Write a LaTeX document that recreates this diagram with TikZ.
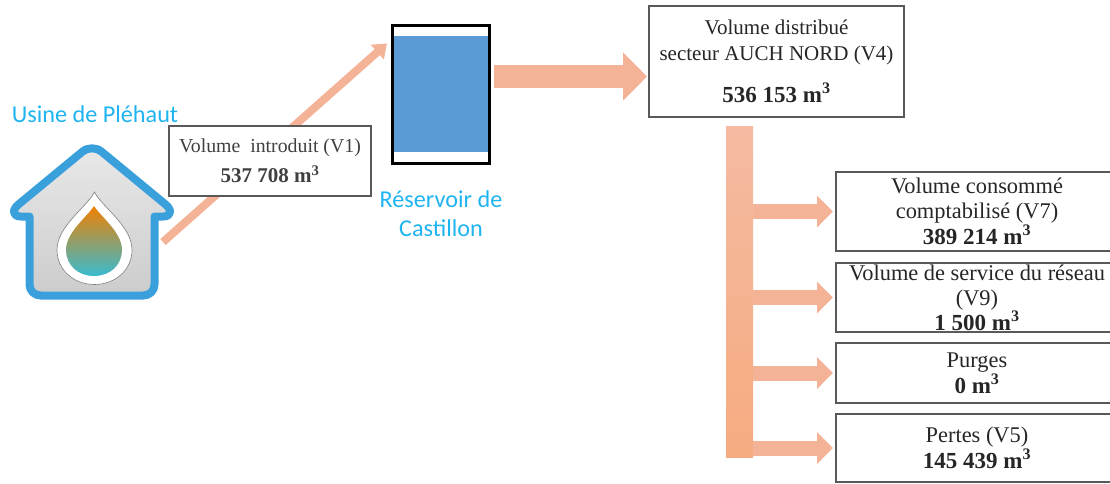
\documentclass[tikz,border=0pt]{standalone}
\usepackage{fontspec}
\usepackage{xcolor}
\setmainfont{Liberation Serif}
\newfontfamily\labelfont{Carlito}
\usetikzlibrary{positioning}
\usetikzlibrary{arrows.meta}

\definecolor{flowOrange}{HTML}{F4B397}
\definecolor{labelBlue}{HTML}{1FB4F0}
\definecolor{houseBlue}{HTML}{3AA0DC}
\definecolor{waterBlue}{HTML}{5B9BD5}
\definecolor{dropTop}{HTML}{F08000}
\definecolor{dropMid}{HTML}{5BA52E}
\definecolor{dropBottom}{HTML}{38BBD0}

\newcommand{\volnum}[1]{{\fontsize{23}{25}\selectfont\textbf{#1 m\textsuperscript{3}}}}

\tikzset{
	volbox/.style={
		draw=black!65,
		line width=1.2pt,
		fill=white,
		inner sep=0pt,
		outer sep=0pt,
		align=center,
		text=black!85,
		font=\fontsize{22.4}{25}\selectfont
	},
	sitelabel/.style={
		inner sep=0pt,
		align=center,
		text=labelBlue,
		font=\labelfont\fontsize{24.2}{29}\selectfont
	},
	branch/.style={
		draw=flowOrange,
		line width=15pt,
		-{Triangle[length=16pt,width=31pt]}
	}
}

\begin{document}
\begin{tikzpicture}[x=1pt,y=-1pt]

\clip (0,0) rectangle (1110,483);
\useasboundingbox (0,0) rectangle (1110,483);

% --- plant

\node[sitelabel] (usine) at (95,114) {Usine de Pléhaut};

\draw[
	draw=houseBlue,
	line width=8pt,
	line join=round,
	top color=black!9,
	bottom color=black!20
] (29.5,216.5) -- (21,216.5) .. controls (12,216.5) and (12,209.5) .. (19,204)
	-- (82,152) .. controls (88,147) and (96,147) .. (102,152)
	-- (165,204) .. controls (172,209.5) and (172,216.5) .. (163,216.5)
	-- (154.5,216.5) [rounded corners=11pt]
	-- (154.5,295.5) -- (29.5,295.5) [sharp corners] -- cycle;

\draw[draw=black!50, fill=white, line width=0.6pt]
	(94.5,192) .. controls (102,207) and (132,226) .. (132,250)
	.. controls (132,270) and (115,284.5) .. (94.5,284.5)
	.. controls (74,284.5) and (57,270) .. (57,250)
	.. controls (57,226) and (87,207) .. (94.5,192) -- cycle;

\shade[top color=dropTop, middle color=dropMid, bottom color=dropBottom]
	(94,206) .. controls (100,216) and (122,232) .. (122,250)
	.. controls (122,265) and (110,276) .. (94,276)
	.. controls (78,276) and (66,265) .. (66,250)
	.. controls (66,232) and (88,216) .. (94,206) -- cycle;

% --- reservoir

\node[
	draw=black,
	line width=3pt,
	fill=white,
	outer sep=0pt,
	minimum width=97pt,
	minimum height=138pt
] (reservoir) at (441,94.5) {};

\node[
	fill=waterBlue,
	outer sep=0pt,
	minimum width=94pt,
	minimum height=116pt
] (water) at (441,94) {};

\node[sitelabel, below=27pt of reservoir] (reservoirName) {Réservoir de\\Castillon};

% --- volumes

\coordinate (plantOut) at (163,242);
\coordinate (reservoirIn) at (387,43.5);

\draw[
	draw=flowOrange,
	line width=8pt,
	-{Triangle[length=13pt,width=19pt]}
] (plantOut) -- (reservoirIn);

\node[
	volbox,
	minimum width=202pt,
	minimum height=70pt,
	text=black!75,
	font=\fontsize{19.8}{30}\selectfont
] (introduit) at (270,161) {Volume\ \ introduit (V1)\\[0pt]{\fontsize{21}{30}\selectfont\textbf{537 708 m\textsuperscript{3}}}};

\node[
	volbox,
	minimum width=255pt,
	minimum height=111pt,
	font=\fontsize{21}{26}\selectfont
] (distribue) at (776.5,61.5) {Volume distribué\\secteur AUCH NORD (V4)\\[16pt]\volnum{536 153}};

\coordinate (reservoirOut) at ([xshift=4pt,yshift=18pt]reservoir.east);
\coordinate (distribueIn) at ([xshift=-2pt,yshift=-15pt]distribue.west);

\draw[
	draw=flowOrange,
	line width=23pt,
	-{Triangle[length=24pt,width=47pt]}
] (reservoirOut) -- (distribueIn);

\node[
	top color=flowOrange!90!white,
	bottom color=flowOrange!85!orange,
	outer sep=0pt,
	minimum width=27pt,
	minimum height=331pt
] (trunk) at (739.5,291.5) {};

\node[
	volbox,
	minimum width=282pt,
	minimum height=79pt
] (comptabilise) at (977,211.5) {Volume consommé\\comptabilisé (V7)\\[1pt]\volnum{389 214}};

\node[
	volbox,
	minimum width=282pt,
	minimum height=69pt,
	below=12pt of comptabilise
] (service) {Volume de service du réseau\\(V9)\\\volnum{1 500}};

\node[
	volbox,
	minimum width=282pt,
	minimum height=60pt,
	below=11pt of service
] (purges) {Purges\\[1pt]\volnum{0}};

\node[
	volbox,
	minimum width=282pt,
	minimum height=68pt,
	below=11pt of purges
] (pertes) {Pertes (V5)\\[1pt]\volnum{145 439}};

% ---

\draw[branch, shorten >=3pt] (trunk.east |- comptabilise.west) -- (comptabilise.west);
\draw[branch, shorten >=3pt] (trunk.east |- service.west) -- (service.west);
\draw[branch, shorten >=3pt] (trunk.east |- purges.west) -- (purges.west);
\draw[branch, shorten >=3pt] (trunk.east |- pertes.west) -- (pertes.west);

\end{tikzpicture}
\end{document}
